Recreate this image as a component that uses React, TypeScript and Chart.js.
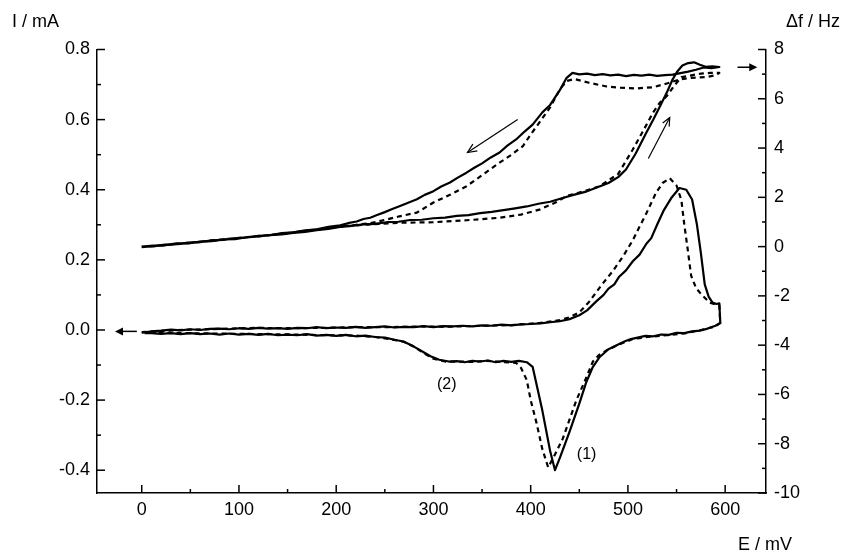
import { useEffect, useRef } from 'react';
import { Chart, registerables } from 'chart.js';

Chart.register(...registerables);

const FONT = "'Liberation Sans', Arial, Helvetica, sans-serif";

// Axis ticks
const xTicks = [0, 100, 200, 300, 400, 500, 600];
const currentTicks = [-0.4, -0.2, 0, 0.2, 0.4, 0.6, 0.8];
const freqTicks = [-10, -8, -6, -4, -2, 0, 2, 4, 6, 8];

// Current, film (1) – solid: forward scan then reverse scan (E in mV, I in mA)
const curSolidE = [0, 10, 20, 30, 40, 50, 60, 70, 80, 90, 100, 110, 120, 130, 140, 150, 160, 170, 180, 190, 200, 210, 220, 230, 240, 250, 260, 270, 280, 290, 300, 310, 320, 330, 340, 350, 360, 370, 380, 390, 400, 410, 420, 430, 440, 450, 458,
  468, 475, 480, 486, 491, 498, 505, 512, 519, 524, 530, 537, 545, 553, 560, 566, 571, 575, 579, 583, 587, 591, 594, 595,
  590, 582, 574, 566, 558, 550, 542, 534, 526, 518, 510, 503, 497, 491, 480, 471, 464, 457, 450, 440, 430, 425, 420, 412, 402,
  396, 388, 380, 372, 364, 356, 348, 340, 332, 324, 316, 306, 297, 289, 279, 269, 260, 250, 240, 230, 220, 210, 200, 190, 180, 170, 160, 150, 140, 130, 120, 110, 100, 90, 80, 70, 60, 50, 40, 30, 20, 10, 3];
const curSolidI = [-0.008, -0.004, -0.002, 0.001, -0.001, 0.002, 0.000, 0.003, 0.004, 0.002, 0.005, 0.003, 0.006, 0.004, 0.005, 0.003, 0.006, 0.005, 0.008, 0.005, 0.007, 0.006, 0.009, 0.006, 0.008, 0.010, 0.007, 0.009, 0.008, 0.011, 0.008, 0.011, 0.010, 0.012, 0.010, 0.013, 0.012, 0.015, 0.013, 0.016, 0.017, 0.019, 0.022, 0.025, 0.031, 0.042, 0.056,
  0.083, 0.100, 0.118, 0.130, 0.152, 0.170, 0.196, 0.215, 0.246, 0.262, 0.300, 0.342, 0.378, 0.405, 0.400, 0.372, 0.300, 0.220, 0.130, 0.095, 0.078, 0.074, 0.076, 0.020,
  0.012, 0.004, -0.002, -0.004, -0.009, -0.008, -0.014, -0.013, -0.018, -0.017, -0.022, -0.026, -0.032, -0.040, -0.055, -0.077, -0.105, -0.150, -0.210, -0.290, -0.365, -0.400, -0.345, -0.230, -0.105,
  -0.092, -0.088, -0.091, -0.088, -0.092, -0.087, -0.090, -0.088, -0.092, -0.089, -0.090, -0.085, -0.075, -0.062, -0.046, -0.033, -0.028, -0.022, -0.020, -0.016, -0.018, -0.014, -0.017, -0.014, -0.016, -0.012, -0.015, -0.013, -0.015, -0.011, -0.014, -0.011, -0.013, -0.010, -0.013, -0.010, -0.012, -0.009, -0.012, -0.009, -0.011, -0.009, -0.009];

// Current, film (2) – dashed
const curDashE = [0, 25, 50, 80, 118, 150, 187, 220, 255, 286, 313, 350, 380, 410, 430, 440, 450, 460, 472, 485, 495, 505, 512, 519, 529, 536, 543, 550, 555, 558, 561, 565, 570, 575, 584, 591, 594, 595,
  590, 575, 560, 540, 520, 505, 491, 478, 470, 464, 455, 447, 440, 433, 425, 418, 412, 406, 400, 396, 390, 385, 370, 355, 340, 325, 312, 300, 290, 280, 270, 255, 240, 220, 190, 160, 130, 100, 70, 40, 10];
const curDashI = [-0.006, -0.002, 0.001, 0.003, 0.006, 0.005, 0.006, 0.008, 0.008, 0.010, 0.009, 0.012, 0.014, 0.020, 0.028, 0.036, 0.050, 0.080, 0.125, 0.170, 0.210, 0.256, 0.295, 0.333, 0.392, 0.420, 0.433, 0.412, 0.370, 0.300, 0.240, 0.155, 0.120, 0.103, 0.078, 0.072, 0.070, 0.020,
  0.010, 0.000, -0.009, -0.015, -0.020, -0.026, -0.041, -0.058, -0.072, -0.090, -0.150, -0.200, -0.255, -0.310, -0.355, -0.392, -0.340, -0.265, -0.200, -0.143, -0.108, -0.094, -0.091, -0.088, -0.091, -0.090, -0.090, -0.082, -0.066, -0.048, -0.034, -0.026, -0.020, -0.016, -0.015, -0.013, -0.012, -0.011, -0.010, -0.009, -0.008];

// Frequency shift, film (1) – solid (Δf in Hz)
const freqSolidE = [0, 12, 24, 36, 48, 60, 72, 84, 96, 108, 120, 132, 144, 156, 168, 180, 192, 204, 216, 228, 240, 252, 264, 276, 288, 300, 312, 324, 336, 348, 360, 372, 384, 396, 408, 420, 432, 444, 456, 468, 480, 490, 498, 508, 519, 526, 533, 540, 546, 551, 556, 562, 568, 574, 580, 587, 594,
  586, 578, 570, 562, 554, 546, 538, 530, 522, 514, 506, 498, 490, 482, 474, 466, 458, 450, 443, 437, 430, 420, 412, 402, 394, 385, 376, 368, 359, 350, 342, 334, 325, 317, 308, 300, 291, 283, 274, 265, 257, 250, 242, 235, 228, 221, 212, 204, 192, 180, 168, 156, 144, 132, 120, 108, 96, 84, 72, 60, 48, 36, 24, 12, 0];
const freqSolidF = [0.00, 0.04, 0.06, 0.13, 0.13, 0.20, 0.22, 0.29, 0.30, 0.38, 0.41, 0.46, 0.50, 0.56, 0.60, 0.67, 0.72, 0.80, 0.84, 0.90, 0.92, 0.99, 1.01, 1.08, 1.09, 1.15, 1.18, 1.25, 1.28, 1.36, 1.41, 1.48, 1.55, 1.63, 1.74, 1.82, 1.96, 2.10, 2.22, 2.40, 2.58, 2.82, 3.13, 3.78, 4.63, 5.15, 5.70, 6.25, 6.79, 7.12, 7.35, 7.45, 7.48, 7.38, 7.30, 7.32, 7.29,
  7.24, 7.27, 7.18, 7.10, 7.04, 6.98, 6.96, 6.93, 6.98, 6.94, 6.97, 6.92, 6.98, 6.95, 7.00, 6.96, 7.02, 6.99, 7.05, 6.85, 6.35, 5.75, 5.45, 4.95, 4.68, 4.35, 4.10, 3.82, 3.62, 3.38, 3.20, 3.00, 2.80, 2.60, 2.44, 2.25, 2.10, 1.92, 1.78, 1.64, 1.52, 1.40, 1.28, 1.17, 1.12, 1.02, 0.95, 0.86, 0.80, 0.70, 0.66, 0.58, 0.55, 0.46, 0.44, 0.37, 0.34, 0.27, 0.25, 0.18, 0.16, 0.10, 0.08, 0.02, 0.00];

// Frequency shift, film (2) – dashed
const freqDashE = [0, 20, 50, 80, 118, 150, 180, 204, 230, 265, 300, 334, 368, 390, 409, 425, 437, 455, 471, 490, 505, 515, 526, 533, 540, 548, 555, 565, 575, 585, 594,
  590, 580, 565, 553, 540, 526, 509, 490, 478, 460, 445, 437, 430, 420, 409, 400, 392, 380, 368, 350, 334, 317, 300, 283, 265, 250, 235, 220, 204, 180, 150, 118, 80, 50, 20, 0];
const freqDashF = [-0.02, 0.04, 0.15, 0.27, 0.41, 0.55, 0.69, 0.81, 0.89, 0.97, 0.99, 1.07, 1.17, 1.30, 1.50, 1.78, 2.05, 2.25, 2.45, 2.95, 3.94, 4.65, 5.45, 5.85, 6.11, 6.55, 6.88, 6.95, 7.02, 7.05, 7.05,
  6.95, 6.88, 6.85, 6.78, 6.62, 6.47, 6.42, 6.45, 6.50, 6.65, 6.80, 6.72, 6.38, 5.65, 5.04, 4.55, 4.08, 3.72, 3.41, 2.90, 2.45, 2.10, 1.79, 1.38, 1.23, 1.08, 0.95, 0.88, 0.82, 0.69, 0.55, 0.42, 0.28, 0.16, 0.05, -0.01];

function pts(xs: number[], ys: number[]) {
  return xs.map((x, i) => ({ x, y: ys[i] }));
}

const decorPlugin = {
  id: 'decor',
  afterDraw(chart: any) {
    const { ctx, chartArea: ca } = chart;
    const sx = chart.scales.x;
    const sy = chart.scales.y;
    const sf = chart.scales.y2;
    ctx.save();
    ctx.strokeStyle = '#000';
    ctx.fillStyle = '#000';
    ctx.lineWidth = 1.5;
    ctx.lineCap = 'butt';
    const seg = (x1: number, y1: number, x2: number, y2: number) => {
      ctx.beginPath();
      ctx.moveTo(x1, y1);
      ctx.lineTo(x2, y2);
      ctx.stroke();
    };
    const minors = (vals: number[], lo: number, hi: number) => {
      const step = vals[1] - vals[0];
      const out: number[] = [];
      for (let i = -1; i < vals.length; i++) {
        const v = vals[0] + (i + 0.5) * step;
        if (v > lo && v < hi) out.push(v);
      }
      return out;
    };
    // inward ticks
    for (const v of xTicks) { const p = sx.getPixelForValue(v); seg(p, ca.bottom, p, ca.bottom - 8); }
    for (const v of minors(xTicks, sx.min, sx.max)) { const p = sx.getPixelForValue(v); seg(p, ca.bottom, p, ca.bottom - 4); }
    for (const v of currentTicks) { const p = sy.getPixelForValue(v); seg(ca.left, p, ca.left + 8, p); }
    for (const v of minors(currentTicks, sy.min, sy.max)) { const p = sy.getPixelForValue(v); seg(ca.left, p, ca.left + 4, p); }
    for (const v of freqTicks) { const p = sf.getPixelForValue(v); seg(ca.right, p, ca.right - 8, p); }
    for (const v of minors(freqTicks, sf.min, sf.max)) { const p = sf.getPixelForValue(v); seg(ca.right, p, ca.right - 4, p); }

    // axis titles
    ctx.font = `18px ${FONT}`;
    ctx.textBaseline = 'alphabetic';
    ctx.textAlign = 'left';
    ctx.fillText('I / mA', 12, 27);
    ctx.fillText('\u0394f / Hz', 786, 27);
    ctx.fillText('E / mV', 738, 550);

    // curve labels
    ctx.font = `16px ${FONT}`;
    ctx.textAlign = 'center';
    ctx.textBaseline = 'middle';
    ctx.fillText('(1)', sx.getPixelForValue(457.5), sy.getPixelForValue(-0.356));
    ctx.fillText('(2)', sx.getPixelForValue(313.7), sy.getPixelForValue(-0.157));

    // arrows
    const filledArrow = (x1: number, y1: number, x2: number, y2: number) => {
      const a = Math.atan2(y2 - y1, x2 - x1);
      const L = 8, W = 4;
      ctx.lineWidth = 1.5;
      seg(x1, y1, x2 - L * Math.cos(a) * 0.8, y2 - L * Math.sin(a) * 0.8);
      ctx.beginPath();
      ctx.moveTo(x2, y2);
      ctx.lineTo(x2 - L * Math.cos(a) + W * Math.sin(a), y2 - L * Math.sin(a) - W * Math.cos(a));
      ctx.lineTo(x2 - L * Math.cos(a) - W * Math.sin(a), y2 - L * Math.sin(a) + W * Math.cos(a));
      ctx.closePath();
      ctx.fill();
    };
    const openArrow = (x1: number, y1: number, x2: number, y2: number, L: number) => {
      const a = Math.atan2(y2 - y1, x2 - x1);
      const s = 0.42;
      ctx.lineWidth = 1.2;
      seg(x1, y1, x2, y2);
      ctx.beginPath();
      ctx.moveTo(x2 - L * Math.cos(a - s), y2 - L * Math.sin(a - s));
      ctx.lineTo(x2, y2);
      ctx.lineTo(x2 - L * Math.cos(a + s), y2 - L * Math.sin(a + s));
      ctx.stroke();
    };
    openArrow(sx.getPixelForValue(386.6), sf.getPixelForValue(5.16), sx.getPixelForValue(335), sf.getPixelForValue(3.82), 10);
    openArrow(sx.getPixelForValue(521), sf.getPixelForValue(3.58), sx.getPixelForValue(543), sf.getPixelForValue(5.24), 9);
    filledArrow(sx.getPixelForValue(-5), sy.getPixelForValue(-0.004), sx.getPixelForValue(-27.5), sy.getPixelForValue(-0.004));
    filledArrow(sx.getPixelForValue(612.7), sf.getPixelForValue(7.28), sx.getPixelForValue(633), sf.getPixelForValue(7.28));
    ctx.restore();
  },
};

export default function App() {
  const ref = useRef<HTMLCanvasElement | null>(null);
  useEffect(() => {
    if (!ref.current) return;
    const line = (data: any, axis: string, dashed: boolean) => ({
      data,
      yAxisID: axis,
      showLine: true,
      borderColor: '#000',
      backgroundColor: '#000',
      borderWidth: 2.2,
      borderDash: dashed ? [5, 4] : [],
      borderJoinStyle: 'round',
      pointRadius: 0,
      tension: 0,
      fill: false,
    });
    const tickFont = { family: FONT, size: 18 };
    const chart = new Chart(ref.current, {
      type: 'scatter',
      data: {
        datasets: [
          line(pts(curSolidE, curSolidI), 'y', false),
          line(pts(curDashE, curDashI), 'y', true),
          line(pts(freqSolidE, freqSolidF), 'y2', false),
          line(pts(freqDashE, freqDashF), 'y2', true),
        ],
      },
      options: {
        animation: false,
        responsive: false,
        devicePixelRatio: 1,
        layout: { padding: { top: 49.5, left: 0, right: 0, bottom: 0 } },
        plugins: { legend: { display: false }, tooltip: { enabled: false } },
        scales: {
          x: {
            type: 'linear',
            position: 'bottom',
            min: -46,
            max: 642,
            afterBuildTicks: (s: any) => { s.ticks = xTicks.map((v) => ({ value: v })); },
            afterFit: (s: any) => { s.height = 59; },
            grid: { display: false, drawTicks: false },
            border: { display: true, color: '#000', width: 1.5 },
            ticks: { font: tickFont, color: '#000', padding: 6, maxRotation: 0, autoSkip: false, callback: (v: any) => String(v) },
          },
          y: {
            type: 'linear',
            position: 'left',
            min: -0.465,
            max: 0.8,
            afterBuildTicks: (s: any) => { s.ticks = currentTicks.map((v) => ({ value: v })); },
            afterFit: (s: any) => { s.width = 97; },
            grid: { display: false, drawTicks: false },
            border: { display: true, color: '#000', width: 1.5 },
            ticks: { font: tickFont, color: '#000', padding: 7, autoSkip: false, callback: (v: any) => Number(v).toFixed(1) },
          },
          y2: {
            type: 'linear',
            position: 'right',
            min: -10,
            max: 8,
            afterBuildTicks: (s: any) => { s.ticks = freqTicks.map((v) => ({ value: v })); },
            afterFit: (s: any) => { s.width = 78; },
            grid: { display: false, drawTicks: false },
            border: { display: true, color: '#000', width: 1.5 },
            ticks: { font: tickFont, color: '#000', padding: 8, autoSkip: false, callback: (v: any) => String(v) },
          },
        },
      },
      plugins: [decorPlugin],
    } as any);
    return () => chart.destroy();
  }, []);
  return (
    <div style={{ position: 'fixed', left: 0, top: 0, width: 844, height: 552, background: '#fff' }}>
      <canvas ref={ref} width={844} height={552} style={{ display: 'block', width: 844, height: 552 }} />
    </div>
  );
}
